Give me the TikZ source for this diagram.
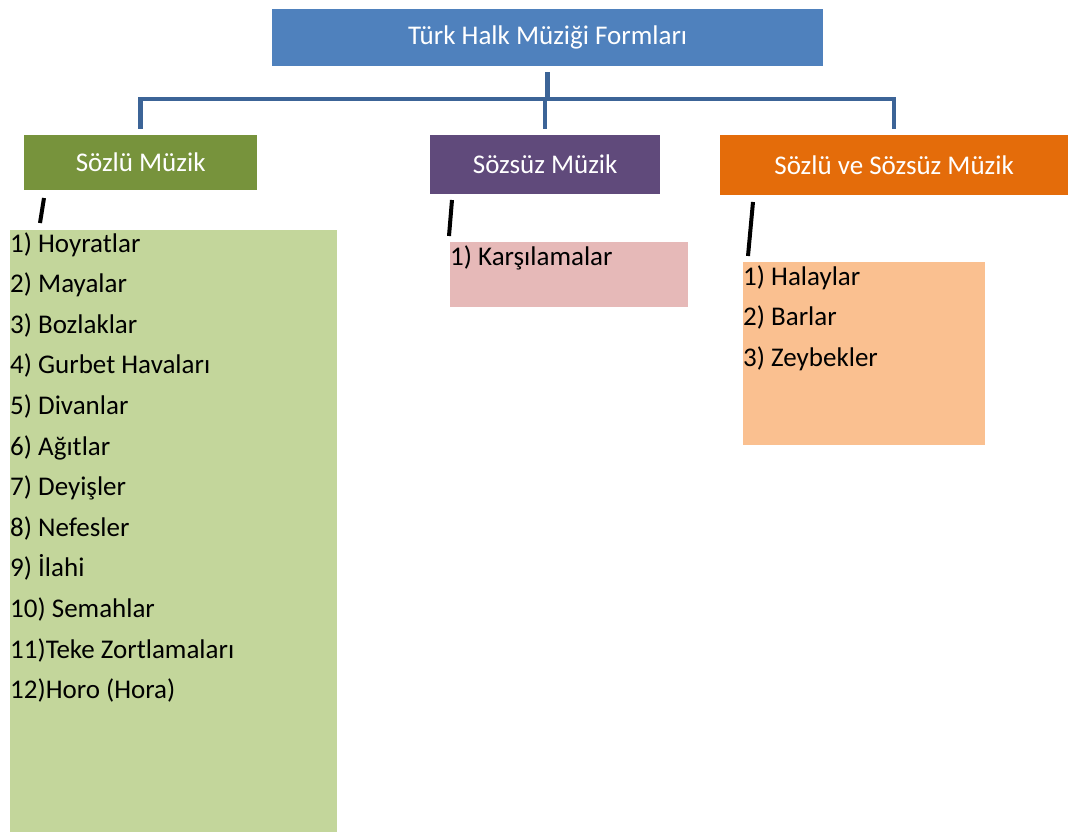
\documentclass[tikz,border=0pt]{standalone}
\usepackage{fontspec}
\setmainfont{Carlito}
\definecolor{topblue}{HTML}{4F81BD}
\definecolor{connblue}{HTML}{3C6497}
\definecolor{sgreen}{HTML}{77933C}
\definecolor{spurple}{HTML}{604A7B}
\definecolor{sorange}{HTML}{E46C0A}
\definecolor{lgreen}{HTML}{C3D69B}
\definecolor{lpink}{HTML}{E6B9B8}
\definecolor{lorange}{HTML}{FAC090}
\begin{document}
\begin{tikzpicture}[x=1pt,y=-1pt,
 hdr/.style={draw=none, anchor=north west, inner sep=0pt, text=white, font=\fontsize{27}{31}\selectfont},
 listbox/.style={draw=none, anchor=north west, inner sep=0pt},
 item/.style={anchor=base west, inner sep=0pt, font=\fontsize{27}{31}\selectfont},
 conn/.style={draw=connblue, line width=4.5pt},
 tick/.style={draw=black, line width=4pt}]
\useasboundingbox (0,0) rectangle (1068,832);
\fill[white] (0,0) rectangle (1068,832);

\node[hdr, fill=topblue, minimum width=551pt, minimum height=57pt] (top) at (272,9) {Türk Halk Müziği Formları};
\node[hdr, fill=sgreen, minimum width=233pt, minimum height=55pt] (s1) at (24,135) {Sözlü Müzik};
\node[hdr, fill=spurple, minimum width=230pt, minimum height=59pt] (s2) at (430,135) {Sözsüz Müzik};
\node[hdr, fill=sorange, minimum width=348pt, minimum height=60pt] (s3) at (720,135) {Sözlü ve Sözsüz Müzik};

\coordinate (bar) at (547,99);
\draw[conn] ([yshift=-6pt]top.south) -- (top.south |- bar);
\draw[conn] ([yshift=6pt]s1.north) -- (s1.north |- bar) -- (s3.north |- bar) -- ([yshift=6pt]s3.north);
\draw[conn] ([yshift=6pt]s2.north) -- (s2.north |- bar);

\node[listbox, fill=lgreen, minimum width=327pt, minimum height=602pt] (l1) at (10,230) {};
\node[listbox, fill=lpink, minimum width=238pt, minimum height=65pt] (l2) at (450,242) {};
\node[listbox, fill=lorange, minimum width=242pt, minimum height=183pt] (l3) at (743,262) {};

\foreach \t [count=\i] in {1) Hoyratlar, 2) Mayalar, 3) Bozlaklar, 4) Gurbet Havaları, 5) Divanlar, 6) Ağıtlar, 7) Deyişler, 8) Nefesler, 9) İlahi, 10) Semahlar, 11)Teke Zortlamaları, 12)Horo (Hora)}
  \node[item] (a\i) at (10,{252+40.6*(\i-1)}) {\t};
\node[item] (b1) at (450,265) {1) Karşılamalar};
\foreach \t [count=\i] in {1) Halaylar, 2) Barlar, 3) Zeybekler}
  \node[item] (c\i) at (743,{285+40.5*(\i-1)}) {\t};

\coordinate (t1a) at (44,198); \coordinate (t1b) at (40,223);
\coordinate (t2a) at (452,200); \coordinate (t2b) at (449,236);
\coordinate (t3a) at (753,202); \coordinate (t3b) at (748,256);
\draw[tick] (t1a) -- (t1b);
\draw[tick] (t2a) -- (t2b);
\draw[tick] (t3a) -- (t3b);
\end{tikzpicture}
\end{document}
